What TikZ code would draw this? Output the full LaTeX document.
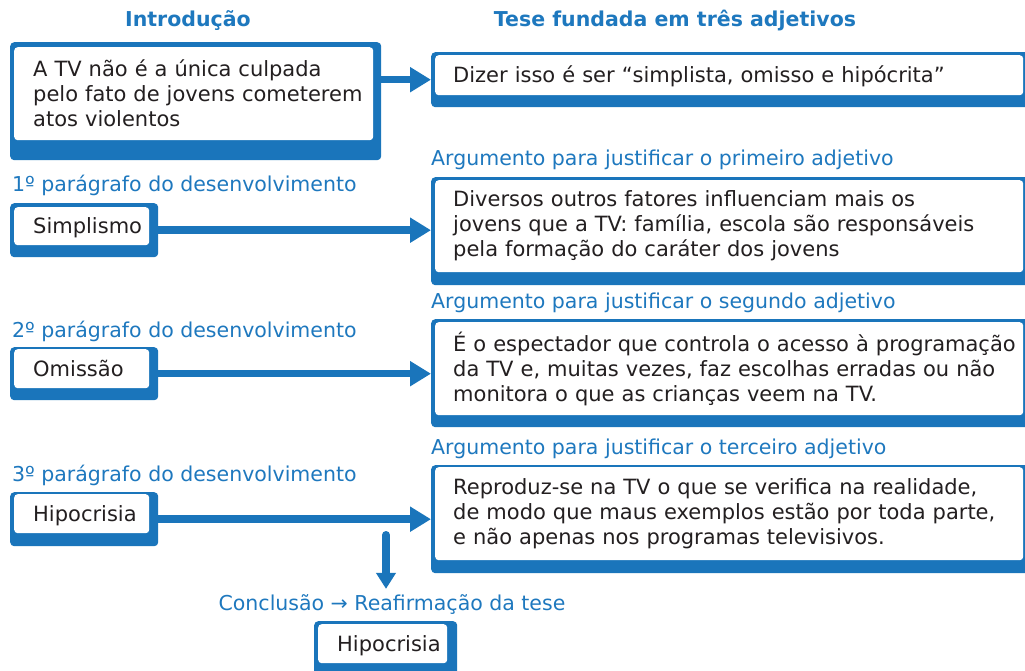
\documentclass[tikz,border=0pt]{standalone}
\usepackage{fontspec}
\setmainfont{DejaVu Sans}
\usetikzlibrary{arrows.meta,calc}
\definecolor{bx}{HTML}{1A75BB}
\definecolor{lbl}{HTML}{1E78BE}
\definecolor{ink}{HTML}{231F20}
\newcommand{\bodyfnt}{\fontsize{21}{25}\selectfont}
\newcommand{\labfnt}{\fontsize{20.5}{25}\selectfont}
\newcommand{\headfnt}{\fontsize{20.5}{25}\selectfont\bfseries}
\newcommand{\ml}[1]{\mbox{#1}}
\begin{document}
\begin{tikzpicture}[x=1pt,y=-1pt,
  back/.style={fill=bx, rounded corners=4pt, inner sep=0pt, anchor=north west, draw=none},
  wbox/.style={fill=white, rounded corners=3.5pt, anchor=north west, inner xsep=19pt, inner ysep=0pt, align=left, text=ink, font=\bodyfnt},
  single/.style={text height=18pt, text depth=3pt},
  lab/.style={text=lbl, font=\labfnt, inner sep=0pt, anchor=base west},
  head/.style={text=lbl, font=\headfnt, inner sep=0pt, anchor=base},
  conn/.style={draw=bx, line width=7.5pt, -{Triangle[length=21pt,width=24pt]}},
  down/.style={draw=bx, line width=8pt, line cap=round, -{Triangle[length=16pt,width=19pt]}}]
\useasboundingbox (0,0) rectangle (1025,671);
\clip (0,0) rectangle (1025,671);

% headers
\node[head] (hIntro) at (188,27) {Introdução};
\node[head] (hTese) at (675,27) {Tese fundada em três adjetivos};

% intro
\node[back, minimum width=371pt, minimum height=118pt] (introB) at (10,42) {};
\node[wbox, text width=321pt, minimum height=93pt] (intro) at (14,47) {\ml{A TV não é a única culpada}\\\ml{pelo fato de jovens cometerem}\\\ml{atos violentos}};

% tese
\node[back, minimum width=610pt, minimum height=55pt] (teseB) at (431,52) {};
\node[wbox, single, inner xsep=18pt, text width=552pt, minimum height=40pt] (tese) at (435,55) {Dizer isso é ser “simplista, omisso e hipócrita”};

% labels
\node[lab] (a1) at (431,166) {Argumento para justificar o primeiro adjetivo};
\node[lab] (p1) at (12,192) {1º parágrafo do desenvolvimento};
\node[lab] (a2) at (431,308) {Argumento para justificar o segundo adjetivo};
\node[lab] (p2) at (12,337) {2º parágrafo do desenvolvimento};
\node[lab] (a3) at (431,454) {Argumento para justificar o terceiro adjetivo};
\node[lab] (p3) at (12,481) {3º parágrafo do desenvolvimento};

% left boxes
\node[back, minimum width=148pt, minimum height=54pt] (simpB) at (10,203) {};
\node[wbox, single, text width=97pt, minimum height=38pt] (simp) at (14,207) {Simplismo};
\node[back, minimum width=148pt, minimum height=53pt] (omisB) at (10,347) {};
\node[wbox, single, text width=97pt, minimum height=39pt] (omis) at (14,349) {Omissão};
\node[back, minimum width=148pt, minimum height=54pt] (hipoB) at (10,492) {};
\node[wbox, single, text width=97pt, minimum height=39pt] (hipo) at (14,494) {Hipocrisia};

% right boxes
\node[back, minimum width=610pt, minimum height=108pt] (r1B) at (431,177) {};
\node[wbox, inner xsep=18pt, text width=552pt, minimum height=92pt] (r1) at (435,180) {\ml{Diversos outros fatores influenciam mais os}\\\ml{jovens que a TV: família, escola são responsáveis}\\\ml{pela formação do caráter dos jovens}};
\node[back, minimum width=610pt, minimum height=108pt] (r2B) at (431,319) {};
\node[wbox, inner xsep=18pt, text width=552pt, minimum height=93pt] (r2) at (435,322) {\ml{É o espectador que controla o acesso à programação}\\\ml{da TV e, muitas vezes, faz escolhas erradas ou não}\\\ml{monitora o que as crianças veem na TV.}};
\node[back, minimum width=610pt, minimum height=108pt] (r3B) at (431,465) {};
\node[wbox, inner xsep=18pt, text width=552pt, minimum height=93pt] (r3) at (435,467) {\ml{Reproduz-se na TV o que se verifica na realidade,}\\\ml{de modo que maus exemplos estão por toda parte,}\\\ml{e não apenas nos programas televisivos.}};

% conclusion
\node[lab, anchor=base] (concl) at (392,610) {Conclusão → Reafirmação da tese};
\node[back, minimum width=143pt, minimum height=60pt] (cB) at (314,621) {};
\node[wbox, single, text width=91pt, minimum height=39pt] (c) at (318,624) {Hipocrisia};

% connectors
\draw[conn] (introB.east |- teseB.west) -- (teseB.west);
\draw[conn] (simpB.east) -- (simpB.east -| r1B.west);
\draw[conn] (omisB.east) -- (omisB.east -| r2B.west);
\draw[conn] (hipoB.east) -- (hipoB.east -| r3B.west);
\coordinate (vs) at (386,535);
\draw[down, shorten >=5pt] (vs) -- (vs |- concl.north);
\end{tikzpicture}
\end{document}
